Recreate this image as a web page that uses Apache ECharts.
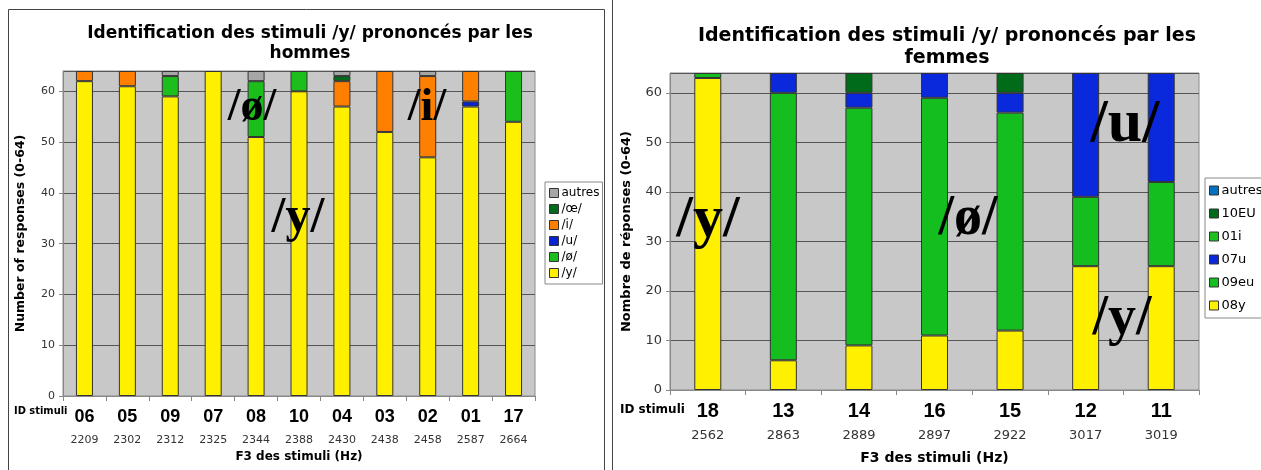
<!DOCTYPE html>
<html><head><meta charset="utf-8">
<script src="https://cdn.jsdelivr.net/npm/echarts@6/dist/echarts.min.js"></script>
<style>
html,body{margin:0;padding:0;background:#fff;width:1261px;height:470px;overflow:hidden;}
#L{position:absolute;left:0;top:0;width:610px;height:470px;}
#R{position:absolute;left:610px;top:0;width:651px;height:470px;}
</style></head><body>
<div id="L"></div><div id="R"></div>
<script>
// ---- Left chart data (hommes)
const leftIds = ['06','05','09','07','08','10','04','03','02','01','17'];
const leftF3 = ['2209','2302','2312','2325','2344','2388','2430','2438','2458','2587','2664'];
const leftY      = [62,61,59,64,51,60,57,52,47,57,54];
const leftOslash = [0,0,4,0,11,4,0,0,0,0,10];
const leftU      = [0,0,0,0,0,0,0,0,0,1,0];
const leftI      = [2,3,0,0,0,0,5,12,16,6,0];
const leftOE     = [0,0,0,0,0,0,1,0,0,0,0];
const leftAutres = [0,0,1,0,2,0,1,0,1,0,0];
// ---- Right chart data (femmes)
const rightIds = ['18','13','14','16','15','12','11'];
const rightF3 = ['2562','2863','2889','2897','2922','3017','3019'];
const r08y   = [63,6,9,11,12,25,25];
const r09eu  = [1,54,48,48,44,14,17];
const r07u   = [0,4,3,5,4,25,22];
const r01i   = [0,0,0,0,0,0,0];
const r10EU  = [0,0,4,0,4,0,0];
const rAutres= [0,0,0,0,0,0,0];

const nz = a => a.map(v => v === 0 ? '-' : v);

function mkSeries(list, stack, bw){
  return list.map(s => ({
    name: s.name, type:'bar', stack: stack, data: nz(s.data), barWidth: bw,
    itemStyle:{color:s.color, borderColor:'#333', borderWidth:1},
    emphasis:{disabled:true}, animation:false
  }));
}

// ---------- LEFT ----------
const cL = echarts.init(document.getElementById('L'));
const leftSeries = [
  {name:'/y/', data:leftY, color:'#FFF000'},
  {name:'/ø/', data:leftOslash, color:'#1CBE1C'},
  {name:'/u/', data:leftU, color:'#0A23D2'},
  {name:'/i/', data:leftI, color:'#FF7F00'},
  {name:'/œ/', data:leftOE, color:'#006B18'},
  {name:'autres', data:leftAutres, color:'#A6A6A6'}
];
cL.setOption({
  animation:false,
  title:{text:'Identification des stimuli /y/ prononcés par les\nhommes', left:305, top:19, textAlign:'center',
    textStyle:{fontFamily:'DejaVu Sans', fontWeight:'bold', fontSize:17, lineHeight:20, color:'#000'}},
  grid:{left:63, top:71, width:472, height:325, show:true, backgroundColor:'#C8C8C8', borderColor:'#8a8a8a', borderWidth:1},
  legend:{orient:'vertical', left:545, top:182, width:52, itemWidth:9, itemHeight:9, itemGap:4,
    padding:[5,3,5,4], borderColor:'#888', borderWidth:1, backgroundColor:'#fff', icon:'rect',
    data:['autres','/œ/','/i/','/u/','/ø/','/y/'],
    itemStyle:{borderColor:'#333', borderWidth:1},
    textStyle:{fontFamily:'DejaVu Sans', fontSize:12, color:'#000', padding:[0,0,0,-2]}},
  xAxis:{type:'category', data:leftIds.map((d,i)=>d+'|'+leftF3[i]),
    axisLine:{lineStyle:{color:'#888'}}, axisTick:{show:true, length:5, lineStyle:{color:'#888'}},
    axisLabel:{interval:0, margin:9, formatter:v=>{const p=v.split('|'); return '{a|'+p[0]+'}\n{b|'+p[1]+'}';},
      rich:{a:{fontFamily:'Liberation Sans Narrow, Liberation Sans', fontWeight:'bold', fontSize:18, color:'#000', lineHeight:24},
            b:{fontFamily:'DejaVu Sans', fontSize:11, color:'#333', lineHeight:22}}},
    name:'F3 des stimuli (Hz)', nameLocation:'middle', nameGap:53,
    nameTextStyle:{fontFamily:'DejaVu Sans', fontWeight:'bold', fontSize:12, color:'#000'}},
  yAxis:{type:'value', min:0, max:64, interval:10,
    axisLine:{show:true, lineStyle:{color:'#888'}}, axisTick:{show:true, length:4, lineStyle:{color:'#888'}},
    axisLabel:{showMaxLabel:false, fontFamily:'DejaVu Sans', fontSize:11, color:'#333', margin:8},
    splitLine:{lineStyle:{color:'#555', width:1}},
    name:'Number of responses (0-64)', nameLocation:'middle', nameGap:36,
    nameTextStyle:{fontFamily:'DejaVu Sans', fontWeight:'bold', fontSize:12.5, color:'#000'}},
  series: mkSeries(leftSeries, 'L', 17),
  graphic:[
    {type:'rect', shape:{x:8.5,y:9.5,width:596,height:470}, style:{fill:null, stroke:'#444', lineWidth:1}, silent:true, z:-1},
    {type:'text', left:14, top:406, style:{text:'ID stimuli', font:'bold 11px "DejaVu Sans Condensed", "DejaVu Sans"', fill:'#000'}},
    {type:'text', x:252, y:108, style:{text:'/ø/', font:'bold 46px "Liberation Serif"', fill:'#000', align:'center', verticalAlign:'middle'}, z:100},
    {type:'text', x:427, y:108, style:{text:'/i/', font:'bold 46px "Liberation Serif"', fill:'#000', align:'center', verticalAlign:'middle'}, z:100},
    {type:'text', x:298, y:218, style:{text:'/y/', font:'bold 50px "Liberation Serif"', fill:'#000', align:'center', verticalAlign:'middle'}, z:100}
  ]
});

// ---------- RIGHT ----------
const cR = echarts.init(document.getElementById('R'));
const rightSeries = [
  {name:'08y', data:r08y, color:'#FFF000'},
  {name:'09eu', data:r09eu, color:'#14BE1E'},
  {name:'07u', data:r07u, color:'#0A28DC'},
  {name:'01i', data:r01i, color:'#1EC01E'},
  {name:'10EU', data:r10EU, color:'#006B18'},
  {name:'autres', data:rAutres, color:'#0070C0'}
];
cR.setOption({
  animation:false,
  title:{text:'Identification des stimuli /y/ prononcés par les\nfemmes', left:332, top:20, textAlign:'center',
    textStyle:{fontFamily:'DejaVu Sans', fontWeight:'bold', fontSize:19, lineHeight:22, color:'#000'}},
  grid:{left:60, top:73, width:529, height:319, show:true, backgroundColor:'#C8C8C8', borderColor:'#8a8a8a', borderWidth:1},
  legend:{orient:'vertical', left:595, top:178, width:60, itemWidth:9, itemHeight:9, itemGap:10,
    padding:[6,3,6,4], borderColor:'#888', borderWidth:1, backgroundColor:'#fff', icon:'rect',
    data:['autres','10EU','01i','07u','09eu','08y'],
    itemStyle:{borderColor:'#333', borderWidth:1},
    textStyle:{fontFamily:'DejaVu Sans', fontSize:13, color:'#000', padding:[0,0,0,-2]}},
  xAxis:{type:'category', data:rightIds.map((d,i)=>d+'|'+rightF3[i]),
    axisLine:{lineStyle:{color:'#888'}}, axisTick:{show:true, length:5, lineStyle:{color:'#888'}},
    axisLabel:{interval:0, margin:8, formatter:v=>{const p=v.split('|'); return '{a|'+p[0]+'}\n{b|'+p[1]+'}';},
      rich:{a:{fontFamily:'Liberation Sans Narrow, Liberation Sans', fontWeight:'bold', fontSize:20, color:'#000', lineHeight:26},
            b:{fontFamily:'DejaVu Sans', fontSize:13, color:'#333', lineHeight:24}}},
    name:'F3 des stimuli (Hz)', nameLocation:'middle', nameGap:61,
    nameTextStyle:{fontFamily:'DejaVu Sans', fontWeight:'bold', fontSize:14, color:'#000'}},
  yAxis:{type:'value', min:0, max:64, interval:10,
    axisLine:{show:true, lineStyle:{color:'#888'}}, axisTick:{show:true, length:4, lineStyle:{color:'#888'}},
    axisLabel:{showMaxLabel:false, fontFamily:'DejaVu Sans', fontSize:13, color:'#333', margin:8},
    splitLine:{lineStyle:{color:'#555', width:1}},
    name:'Nombre de réponses (0-64)', nameLocation:'middle', nameGap:37,
    nameTextStyle:{fontFamily:'DejaVu Sans', fontWeight:'bold', fontSize:13, color:'#000'}},
  series: mkSeries(rightSeries, 'R', 27),
  graphic:[
    {type:'line', shape:{x1:2.5,y1:0,x2:2.5,y2:470}, style:{stroke:'#444', lineWidth:1}, silent:true},
    {type:'text', left:10, top:404, style:{text:'ID stimuli', font:'bold 12px "DejaVu Sans"', fill:'#000'}},
    {type:'text', x:98, y:220, style:{text:'/y/', font:'bold 60px "Liberation Serif"', fill:'#000', align:'center', verticalAlign:'middle'}, z:100},
    {type:'text', x:358, y:220, style:{text:'/ø/', font:'bold 56px "Liberation Serif"', fill:'#000', align:'center', verticalAlign:'middle'}, z:100},
    {type:'text', x:515, y:125, style:{text:'/u/', font:'bold 62px "Liberation Serif"', fill:'#000', align:'center', verticalAlign:'middle'}, z:100},
    {type:'text', x:512, y:320, style:{text:'/y/', font:'bold 56px "Liberation Serif"', fill:'#000', align:'center', verticalAlign:'middle'}, z:100}
  ]
});
</script>
</body></html>
